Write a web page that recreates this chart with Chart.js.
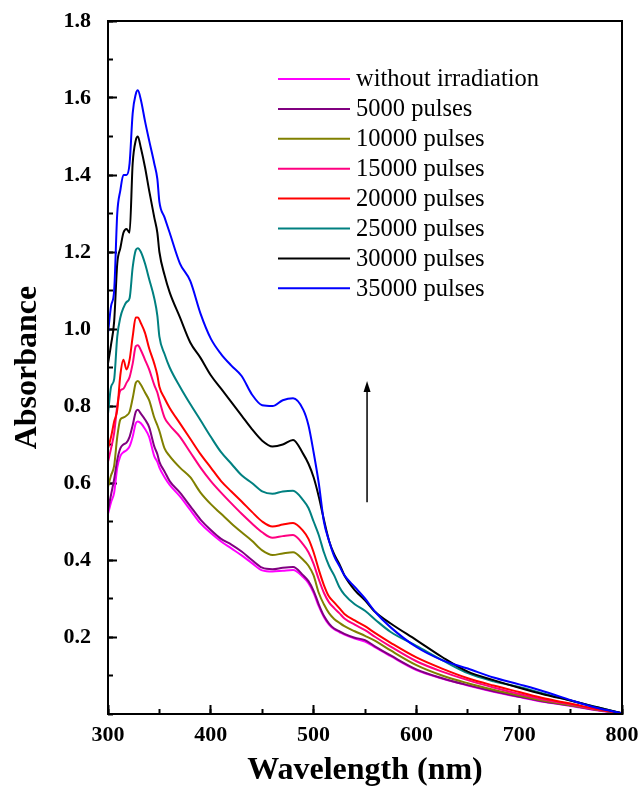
<!DOCTYPE html>
<html>
<head>
<meta charset="utf-8">
<script src="https://cdn.jsdelivr.net/npm/chart.js@4.4.1/dist/chart.umd.min.js"></script>
<style>
    body { margin: 0; background: #ffffff; }
    #grafico { display: block; }
</style>
</head>
<body>
<canvas id="grafico" width="641" height="790"></canvas>
<script>

// longitudes de onda (nm)
const wavelengths = [300,303,306,309,312,315,318,321,324,327,329,332,336,340,345,348,350,355,360,370,380,390,400,410,420,430,440,450,460,470,480,490,495,500,505,510,515,520,525,530,540,550,560,575,600,625,650,675,700,725,750,775,800];

const seriesNames = ['without irradiation', '5000 pulses', '10000 pulses', '15000 pulses', '20000 pulses', '25000 pulses', '30000 pulses', '35000 pulses'];
const seriesColors = ['#ff00ff', '#800080', '#808000', '#ff0080', '#ff0000', '#008080', '#000000', '#0000ff'];

const absWithout = [0.52,0.55,0.575,0.64,0.67,0.68,0.685,0.695,0.72,0.755,0.76,0.755,0.74,0.72,0.67,0.655,0.64,0.615,0.595,0.565,0.53,0.495,0.47,0.448,0.43,0.412,0.392,0.373,0.37,0.372,0.374,0.355,0.34,0.315,0.28,0.252,0.232,0.22,0.213,0.206,0.196,0.188,0.173,0.15,0.114,0.092,0.074,0.058,0.044,0.031,0.021,0.01,0.002];
const abs5000 = [0.53,0.57,0.61,0.66,0.69,0.70,0.705,0.72,0.75,0.785,0.79,0.78,0.765,0.745,0.695,0.675,0.655,0.63,0.605,0.575,0.54,0.505,0.478,0.455,0.44,0.422,0.40,0.38,0.376,0.38,0.382,0.36,0.345,0.32,0.285,0.255,0.235,0.222,0.215,0.208,0.198,0.192,0.175,0.152,0.116,0.093,0.075,0.059,0.045,0.032,0.022,0.011,0.002];
const abs10000 = [0.59,0.62,0.645,0.72,0.765,0.77,0.775,0.785,0.82,0.86,0.865,0.855,0.835,0.815,0.77,0.75,0.735,0.69,0.67,0.64,0.615,0.575,0.545,0.52,0.495,0.472,0.45,0.425,0.413,0.417,0.42,0.40,0.385,0.36,0.315,0.285,0.262,0.247,0.237,0.228,0.215,0.203,0.19,0.165,0.127,0.1,0.08,0.063,0.048,0.034,0.023,0.011,0.002];
const abs15000 = [0.655,0.69,0.73,0.80,0.84,0.845,0.86,0.875,0.91,0.955,0.958,0.945,0.92,0.895,0.855,0.835,0.815,0.77,0.75,0.72,0.68,0.64,0.605,0.575,0.547,0.52,0.495,0.472,0.458,0.462,0.465,0.44,0.42,0.39,0.35,0.315,0.29,0.275,0.262,0.248,0.232,0.218,0.2,0.175,0.137,0.11,0.088,0.069,0.052,0.037,0.025,0.012,0.002];
const abs20000 = [0.69,0.72,0.76,0.79,0.88,0.92,0.895,0.92,0.98,1.03,1.03,1.015,0.99,0.95,0.91,0.88,0.85,0.82,0.795,0.755,0.715,0.675,0.64,0.605,0.578,0.552,0.525,0.50,0.487,0.492,0.496,0.475,0.455,0.42,0.375,0.335,0.305,0.29,0.275,0.26,0.243,0.228,0.21,0.185,0.147,0.118,0.093,0.074,0.057,0.04,0.027,0.013,0.002];
const abs25000 = [0.78,0.85,0.87,0.98,1.03,1.055,1.07,1.08,1.16,1.205,1.21,1.20,1.17,1.13,1.08,1.035,0.98,0.935,0.90,0.85,0.805,0.763,0.72,0.68,0.65,0.62,0.60,0.578,0.572,0.578,0.58,0.555,0.535,0.50,0.465,0.42,0.385,0.36,0.33,0.31,0.285,0.268,0.245,0.213,0.177,0.14,0.106,0.085,0.07,0.052,0.035,0.018,0.002];
const abs30000 = [0.91,0.96,1.02,1.17,1.21,1.25,1.26,1.25,1.43,1.49,1.50,1.47,1.42,1.36,1.29,1.25,1.20,1.14,1.095,1.03,0.965,0.925,0.88,0.845,0.81,0.775,0.74,0.71,0.695,0.70,0.712,0.675,0.65,0.615,0.565,0.505,0.45,0.415,0.39,0.36,0.322,0.295,0.265,0.235,0.192,0.148,0.11,0.088,0.068,0.05,0.035,0.018,0.002];
const abs35000 = [0.99,1.06,1.10,1.30,1.36,1.40,1.40,1.43,1.56,1.61,1.62,1.595,1.54,1.49,1.43,1.39,1.33,1.29,1.25,1.17,1.125,1.04,0.975,0.935,0.905,0.878,0.83,0.802,0.80,0.815,0.82,0.79,0.75,0.68,0.60,0.50,0.45,0.41,0.385,0.36,0.33,0.30,0.265,0.225,0.174,0.14,0.118,0.095,0.077,0.058,0.036,0.016,0.002];

const seriesValues = [absWithout, abs5000, abs10000, abs15000, abs20000, abs25000, abs30000, abs35000];

// ejes
const xTicks = [300, 400, 500, 600, 700, 800];
const yTicks = [0.2, 0.4, 0.6, 0.8, 1.0, 1.2, 1.4, 1.6, 1.8];

// flecha: de (nm, abs) a (nm, abs)
const arrowFrom = [552, 0.55];
const arrowTo = [552, 0.865];

const fuente = "'Times New Roman', 'Liberation Serif', serif";

let datasets = [];
seriesValues.forEach(function (values, i) {
    let puntos = [];
    for (let k = 0; k < wavelengths.length; k++) {
        puntos.push({ x: wavelengths[k], y: values[k] });
    }
    datasets.push({
        label: seriesNames[i],
        data: puntos,
        borderColor: seriesColors[i],
        backgroundColor: seriesColors[i],
        borderWidth: 2,
        pointRadius: 0,
        cubicInterpolationMode: 'monotone',
        order: seriesValues.length - i
    });
});

// leyenda dentro del grafico, marco y flecha
const extras = {
    id: 'extras',
    afterDraw(chart) {
        const ctx = chart.ctx;
        const area = chart.chartArea;
        const xs = chart.scales.x;
        const ys = chart.scales.y;

        ctx.save();
        // marco
        ctx.strokeStyle = '#000';
        ctx.lineWidth = 2;
        ctx.strokeRect(area.left, area.top, area.right - area.left, area.bottom - area.top);

        // leyenda
        ctx.font = '24.5px ' + fuente;
        ctx.textBaseline = 'middle';
        ctx.textAlign = 'left';
        let lx = area.left + 170;
        let ly = area.top + 58;
        chart.data.datasets.forEach(function (ds, i) {
            let y = ly + i * 29.9;
            ctx.strokeStyle = ds.borderColor;
            ctx.lineWidth = 2;
            ctx.beginPath();
            ctx.moveTo(lx, y);
            ctx.lineTo(lx + 72, y);
            ctx.stroke();
            ctx.fillStyle = '#000';
            ctx.fillText(ds.label, lx + 78, y + 1);
        });

        // flecha
        let x1 = xs.getPixelForValue(arrowFrom[0]);
        let y1 = ys.getPixelForValue(arrowFrom[1]);
        let x2 = xs.getPixelForValue(arrowTo[0]);
        let y2 = ys.getPixelForValue(arrowTo[1]);
        ctx.strokeStyle = '#000';
        ctx.lineWidth = 1.5;
        ctx.beginPath();
        ctx.moveTo(x1, y1);
        ctx.lineTo(x2, y2 + 8);
        ctx.stroke();
        ctx.fillStyle = '#000';
        ctx.beginPath();
        ctx.moveTo(x2, y2);
        ctx.lineTo(x2 - 3.5, y2 + 11);
        ctx.lineTo(x2 + 3.5, y2 + 11);
        ctx.closePath();
        ctx.fill();
        ctx.restore();
    }
};

const ctx = document.getElementById('grafico');

let graficoAbsorbancia = new Chart(ctx, {
    type: 'line',
    data: { datasets: datasets },
    plugins: [extras],
    options: {
        responsive: false,
        animation: false,
        devicePixelRatio: 1,
        layout: { padding: { left: 0, right: 19, top: 21, bottom: 0 } },
        plugins: {
            legend: { display: false },
            tooltip: { enabled: false }
        },
        scales: {
            x: {
                type: 'linear',
                position: 'bottom',
                min: 300,
                max: 800,
                afterFit: function (s) {
                    s.height = 76;
                    s.paddingLeft = 0;
                    s.paddingRight = 0;
                },
                afterBuildTicks: function (s) { s.ticks = xTicks.map(v => ({ value: v })); },
                ticks: {
                    color: '#000',
                    padding: 17,
                    autoSkip: false,
                    maxRotation: 0,
                    font: { family: fuente, size: 22, weight: 'bold' },
                    callback: v => String(v)
                },
                grid: { drawOnChartArea: false, tickLength: -9, tickWidth: 2, tickColor: '#000' },
                border: { display: true, color: '#000', width: 2 },
                title: {
                    display: true,
                    text: 'Wavelength (nm)',
                    color: '#000',
                    padding: { top: 0, bottom: 0 },
                    font: { family: fuente, size: 32, weight: 'bold' }
                }
            },
            xMinor: {
                type: 'linear',
                position: 'bottom',
                weight: -1,
                min: 300,
                max: 800,
                afterFit: function (s) {
                    s.height = 0;
                    s.paddingLeft = 0;
                    s.paddingRight = 0;
                },
                ticks: { display: false, stepSize: 50 },
                grid: { drawOnChartArea: false, tickLength: -5, tickWidth: 2, tickColor: '#000' },
                border: { display: false }
            },
            y: {
                type: 'linear',
                position: 'left',
                min: 0,
                max: 1.8,
                afterFit: function (s) {
                    s.width = 108;
                    s.paddingTop = 0;
                    s.paddingBottom = 0;
                },
                afterBuildTicks: function (s) { s.ticks = yTicks.map(v => ({ value: v })); },
                ticks: {
                    color: '#000',
                    padding: 26,
                    autoSkip: false,
                    font: { family: fuente, size: 22, weight: 'bold' },
                    callback: v => Number(v).toFixed(1)
                },
                grid: { drawOnChartArea: false, tickLength: -9, tickWidth: 2, tickColor: '#000' },
                border: { display: true, color: '#000', width: 2 },
                title: {
                    display: true,
                    text: 'Absorbance',
                    color: '#000',
                    padding: { top: 9, bottom: 0 },
                    font: { family: fuente, size: 32, weight: 'bold' }
                }
            },
            yMinor: {
                type: 'linear',
                position: 'left',
                weight: -1,
                min: 0,
                max: 1.8,
                afterFit: function (s) {
                    s.width = 0;
                    s.paddingTop = 0;
                    s.paddingBottom = 0;
                },
                ticks: { display: false, stepSize: 0.1 },
                grid: { drawOnChartArea: false, tickLength: -5, tickWidth: 2, tickColor: '#000' },
                border: { display: false }
            }
        }
    }
});

</script>
</body>
</html>
